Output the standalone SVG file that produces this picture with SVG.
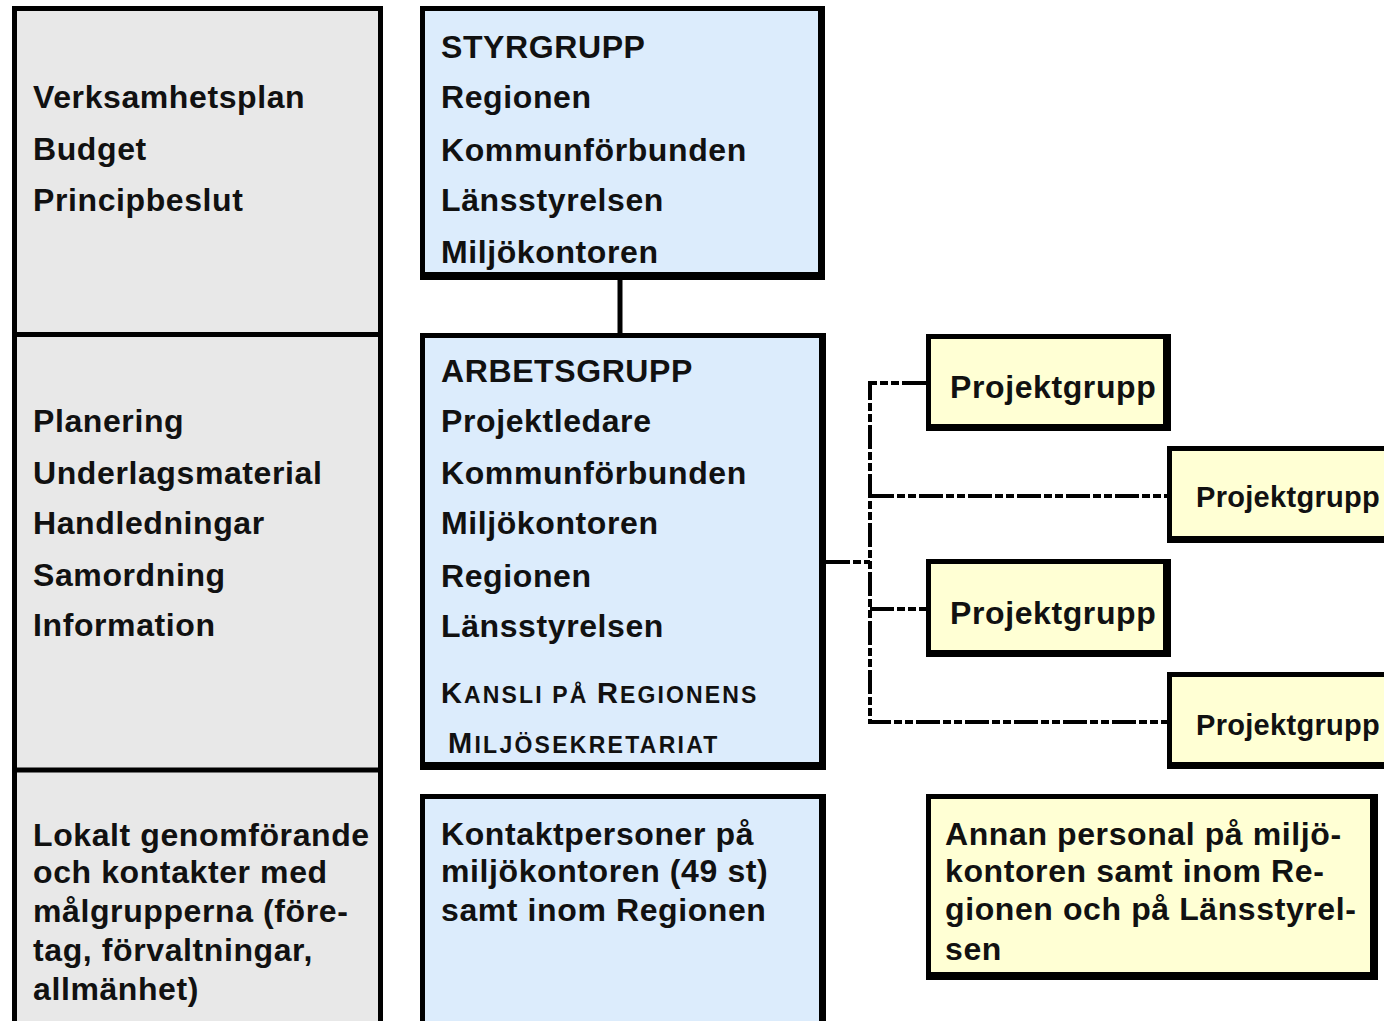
<svg xmlns="http://www.w3.org/2000/svg" width="1384" height="1021" viewBox="0 0 1384 1021">
<style>
text{font-family:"Liberation Sans",Arial,Helvetica,sans-serif;font-weight:bold;font-size:32px;letter-spacing:0.6px;fill:#111}
.sm{font-size:29px;letter-spacing:0.3px}
.cap{font-size:29px}
.low{font-size:23px}
.edge{fill:#000}
.blue{fill:#dcecfc}
.yel{fill:#ffffd4}
.gray{fill:#e8e8e8;stroke:#000;stroke-width:5}
.dash{fill:none;stroke:#000;stroke-width:4;stroke-dasharray:24 3 8 3 8 3}
.solid{fill:none;stroke:#000;stroke-width:5}
</style>
<rect width="1384" height="1021" fill="#fff"/>

<g id="left-column">
<rect class="gray" x="14.5" y="8.5" width="366" height="1030"/>
<line class="solid" x1="14.5" y1="334.5" x2="380.5" y2="334.5"/>
<line class="solid" x1="14.5" y1="770" x2="380.5" y2="770"/>
<text x="33" y="108">Verksamhetsplan</text>
<text x="33" y="160">Budget</text>
<text x="33" y="211">Principbeslut</text>
<text x="33" y="432">Planering</text>
<text x="33" y="484">Underlagsmaterial</text>
<text x="33" y="534">Handledningar</text>
<text x="33" y="586">Samordning</text>
<text x="33" y="636">Information</text>
<text x="33" y="846">Lokalt genomförande</text>
<text x="33" y="883">och kontakter med</text>
<text x="33" y="922">målgrupperna (före-</text>
<text x="33" y="961">tag, förvaltningar,</text>
<text x="33" y="1000">allmänhet)</text>
</g>

<g id="connectors">
<line class="solid" x1="620" y1="278" x2="620" y2="335"/>
<polyline class="dash" points="826,562 870,562"/>
<polyline class="dash" points="926,383 870,383 870,722 1168,722"/>
<polyline class="dash" points="870,496 1168,496"/>
<polyline class="dash" points="870,609 927,609"/>
</g>

<g id="styrgrupp">
<rect class="edge" x="420" y="6" width="405" height="274"/>
<rect class="blue" x="425" y="11" width="393" height="261"/>
<text x="441" y="58">STYRGRUPP</text>
<text x="441" y="108">Regionen</text>
<text x="441" y="161">Kommunförbunden</text>
<text x="441" y="211">Länsstyrelsen</text>
<text x="441" y="263">Miljökontoren</text>
</g>

<g id="arbetsgrupp">
<rect class="edge" x="420" y="333" width="406" height="437"/>
<rect class="blue" x="425" y="338" width="394" height="424"/>
<text x="441" y="382">ARBETSGRUPP</text>
<text x="441" y="432">Projektledare</text>
<text x="441" y="484">Kommunförbunden</text>
<text x="441" y="534">Miljökontoren</text>
<text x="441" y="587">Regionen</text>
<text x="441" y="637">Länsstyrelsen</text>
<text x="441" y="703" textLength="316" lengthAdjust="spacing"><tspan class="cap">K</tspan><tspan class="low">ANSLI PÅ </tspan><tspan class="cap">R</tspan><tspan class="low">EGIONENS</tspan></text>
<text x="448" y="753" textLength="270" lengthAdjust="spacing"><tspan class="cap">M</tspan><tspan class="low">ILJÖSEKRETARIAT</tspan></text>
</g>

<g id="kontaktpersoner">
<rect class="edge" x="420" y="794" width="406" height="240"/>
<rect class="blue" x="425" y="799" width="394" height="240"/>
<text x="441" y="845">Kontaktpersoner på</text>
<text x="441" y="882">miljökontoren (49 st)</text>
<text x="441" y="921">samt inom Regionen</text>
</g>

<g id="projektgrupp1">
<rect class="edge" x="926" y="334" width="245" height="97"/>
<rect class="yel" x="931" y="339" width="232" height="85"/>
<text x="950" y="398">Projektgrupp</text>
</g>

<g id="projektgrupp2">
<rect class="edge" x="1167" y="446" width="230" height="97"/>
<rect class="yel" x="1172" y="451" width="230" height="85"/>
<text class="sm" x="1196" y="507">Projektgrupp</text>
</g>

<g id="projektgrupp3">
<rect class="edge" x="926" y="559" width="245" height="98"/>
<rect class="yel" x="931" y="564" width="232" height="86"/>
<text x="950" y="624">Projektgrupp</text>
</g>

<g id="projektgrupp4">
<rect class="edge" x="1167" y="672" width="230" height="97"/>
<rect class="yel" x="1172" y="677" width="230" height="85"/>
<text class="sm" x="1196" y="735">Projektgrupp</text>
</g>

<g id="annan-personal">
<rect class="edge" x="926" y="794" width="452" height="186"/>
<rect class="yel" x="931" y="799" width="439" height="173"/>
<text x="945" y="845">Annan personal på miljö-</text>
<text x="945" y="882">kontoren samt inom Re-</text>
<text x="945" y="920">gionen och på Länsstyrel-</text>
<text x="945" y="960">sen</text>
</g>
</svg>
